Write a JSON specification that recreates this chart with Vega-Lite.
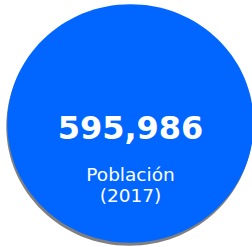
{
  "$schema": "https://vega.github.io/schema/vega-lite/v6.json",
  "width": 252,
  "height": 247,
  "padding": 0,
  "autosize": {"type": "pad"},
  "background": "white",
  "config": {"view": {"stroke": null}},
  "datasets": {
    "kpi": [{"value": 595986, "label": "595,986", "caption": "Población", "year": "(2017)"}]
  },
  "data": {"name": "kpi"},
  "layer": [
    {
      "mark": {
        "type": "point",
        "shape": "M 1 0 C 1 0.5346 0.5523 0.968 0 0.968 C -0.5523 0.968 -1 0.5346 -1 0 C -1 -0.5346 -0.5523 -0.968 0 -0.968 C 0.5523 -0.968 1 -0.5346 1 0 Z",
        "filled": true,
        "fill": "#7f7f7f",
        "opacity": 1,
        "strokeWidth": 0,
        "size": 60713,
        "xOffset": 3.5,
        "yOffset": 3
      },
      "encoding": {}
    },
    {
      "mark": {
        "type": "point",
        "shape": "M 1 0 C 1 0.5346 0.5523 0.968 0 0.968 C -0.5523 0.968 -1 0.5346 -1 0 C -1 -0.5346 -0.5523 -0.968 0 -0.968 C 0.5523 -0.968 1 -0.5346 1 0 Z",
        "filled": true,
        "fill": "#0066ff",
        "opacity": 1,
        "strokeWidth": 0,
        "size": 60713,
        "xOffset": 4.5
      },
      "encoding": {}
    },
    {
      "mark": {
        "type": "text",
        "font": "DejaVu Sans",
        "fontWeight": "bold",
        "fontSize": 32,
        "color": "white",
        "align": "center",
        "baseline": "alphabetic",
        "xOffset": 4.5,
        "yOffset": 15.5
      },
      "encoding": {"text": {"field": "label"}}
    },
    {
      "mark": {
        "type": "text",
        "font": "DejaVu Sans",
        "fontSize": 18.5,
        "color": "white",
        "align": "center",
        "baseline": "alphabetic",
        "xOffset": 4.5,
        "yOffset": 57.5
      },
      "encoding": {"text": {"field": "caption"}}
    },
    {
      "mark": {
        "type": "text",
        "font": "DejaVu Sans",
        "fontSize": 18.5,
        "color": "white",
        "align": "center",
        "baseline": "alphabetic",
        "xOffset": 4.5,
        "yOffset": 78.5
      },
      "encoding": {"text": {"field": "year"}}
    }
  ]
}
